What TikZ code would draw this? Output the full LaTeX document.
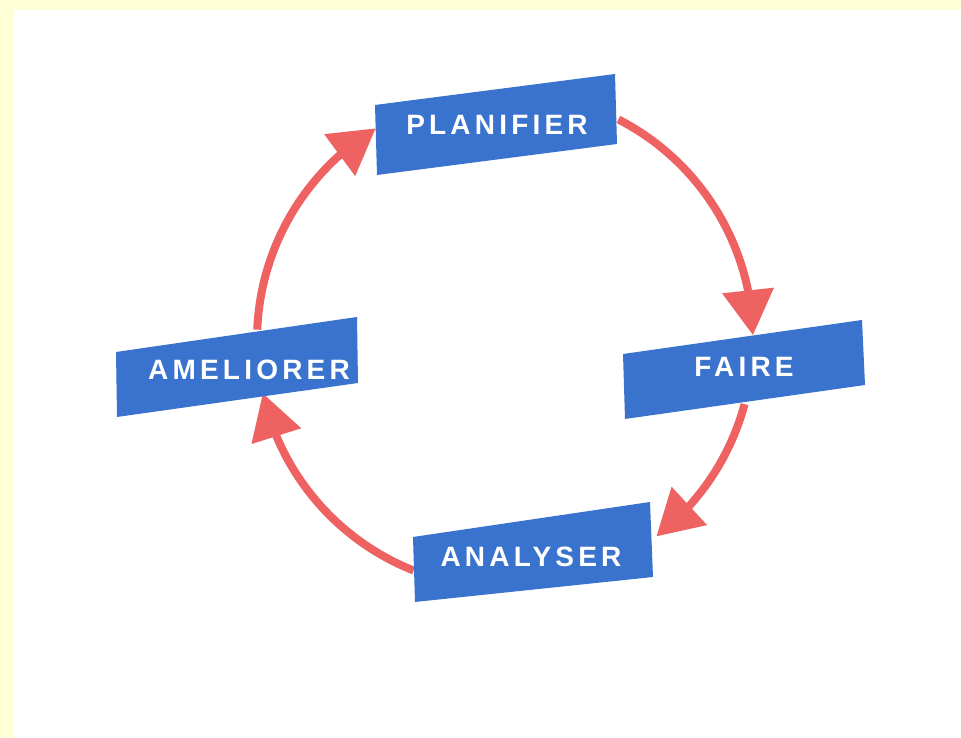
\documentclass[tikz,border=0pt]{standalone}
\usepackage{fontspec}
\newfontfamily\boxfont{Liberation Sans}[LetterSpace=15]
\usetikzlibrary{arrows.meta,bending,calc}
\definecolor{bgyellow}{RGB}{255,255,213}
\definecolor{boxblue}{RGB}{58,115,205}
\definecolor{arrowred}{RGB}{238,98,98}
\tikzset{
  arrowline/.style={draw=arrowred, line width=8pt, -{Triangle[length=45pt,width=50pt]}},
  boxfill/.style={fill=boxblue, draw=none},
  boxtext/.style={text=white, inner sep=0pt, font=\boxfont\bfseries\fontsize{28}{32}\selectfont}
}
\begin{document}
\begin{tikzpicture}[x=1pt,y=1pt]
\useasboundingbox (0,0) rectangle (961,738);
\fill[bgyellow] (0,0) rectangle (961,738);
\fill[white] (14,0) rectangle (961,728);
\coordinate (c) at (505,398);
\coordinate (s1) at ($(c)+(177.6:248)$);
\coordinate (s2) at ($(c)+(62.8:248)$);
\coordinate (s3) at ($(c)+(-15:248)$);
\coordinate (s4) at ($(c)+(-111.6:248)$);
% connectors
\draw[arrowline] (s1) arc[start angle=177.6, end angle=121.4, radius=248];
\draw[arrowline] (s2) arc[start angle=62.8, end angle=1.1, radius=248];
\draw[arrowline] (s3) arc[start angle=-15, end angle=-52.4, radius=248];
\draw[arrowline] (s4) arc[start angle=-111.6, end angle=-167.6, radius=248];
% boxes
\fill[boxfill] (375,633) -- (615,664) -- (617,594) -- (377,563) -- cycle;
\fill[boxfill] (623,384) -- (862,418) -- (865,353) -- (625,319) -- cycle;
\fill[boxfill] (116,386) -- (357,421) -- (358,355) -- (117,321) -- cycle;
\fill[boxfill] (413,201) -- (650,236) -- (653,161) -- (415,136) -- cycle;
\node[boxtext] (plan) at (497,613) {PLANIFIER};
\node[boxtext] (faire) at (744,371) {FAIRE};
\node[boxtext] (amel) at (249,368) {AMELIORER};
\node[boxtext] (anal) at (531,181) {ANALYSER};
\end{tikzpicture}
\end{document}
